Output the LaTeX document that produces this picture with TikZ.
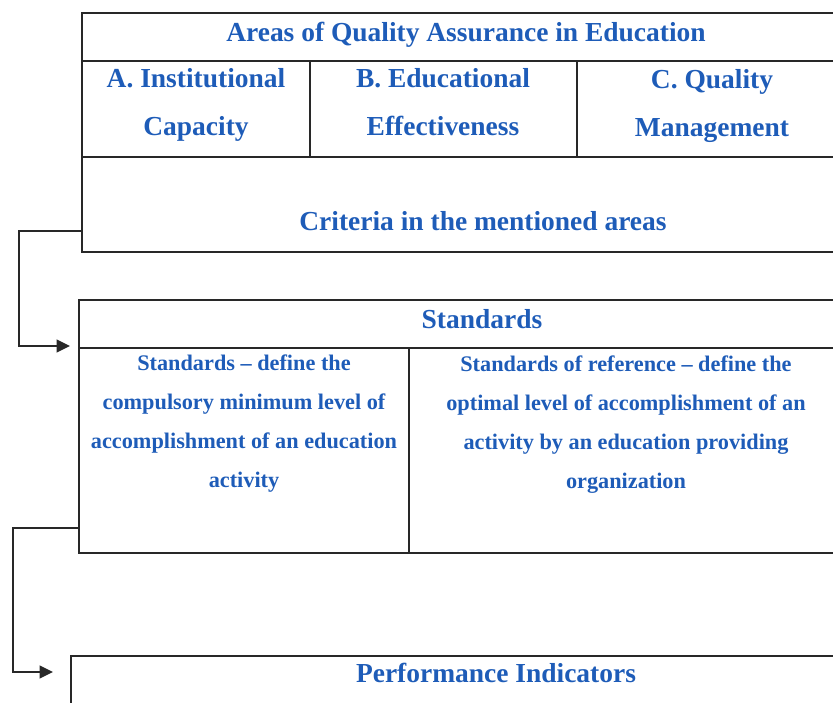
\documentclass[tikz,border=0pt]{standalone}
\usepackage{fontspec}
\setmainfont{Liberation Serif}
\usetikzlibrary{arrows.meta,calc}
\definecolor{txtblue}{RGB}{30,92,184}
\definecolor{rulegray}{RGB}{40,40,40}
\begin{document}
\begin{tikzpicture}[x=0.75pt,y=-0.75pt,
  cell/.style args={#1/#2}{draw=rulegray, line width=1.2pt,
    minimum width={#1*0.75pt}, minimum height={#2*0.75pt},
    anchor=north west, inner sep=0pt, outer sep=0pt},
  head/.style={text=txtblue, inner sep=0pt, anchor=base, align=center,
    font=\bfseries\fontsize{20.6}{36}\selectfont},
  desc/.style={text=txtblue, inner sep=0pt, anchor=base, align=center,
    font=\bfseries\fontsize{16.7}{29.2}\selectfont},
  conn/.style={draw=rulegray, line width=1.2pt,
    -{Triangle[length=10pt,width=9.5pt]}}]
\useasboundingbox (0,0) rectangle (833,703);
\clip (0,0) rectangle (833,703);

% areas table
\node[cell=768/48] (title) at (82,13) {};
\node[cell=228/96] (capA) at (82,61) {};
\node[cell=267/96] (capB) at (310,61) {};
\node[cell=273/96] (capC) at (577,61) {};
\node[cell=768/95] (crit) at (82,157) {};

% anchor=base of a two-line label sits on its last line
\node[head] (tTitle) at (466,41) {Areas of Quality Assurance in Education};
\node[head] (tA) at (196,135) {A. Institutional\\Capacity};
\node[head] (tB) at (443,135) {B. Educational\\Effectiveness};
\node[head] (tC) at (712,136) {C. Quality\\Management};
\node[head] (tCrit) at (483,230) {Criteria in the mentioned areas};

% standards table
\node[cell=771/48] (stdhead) at (79,300) {};
\node[cell=330/205] (stdmin) at (79,348) {};
\node[cell=441/205] (stdref) at (409,348) {};

\node[head] (tStd) at (482,328) {Standards};
\node[desc] (tMin) at (244,487) {Standards -- define the\\compulsory minimum level of\\accomplishment of an education\\activity};
\node[desc] (tRef) at (626,488) {Standards of reference -- define the\\optimal level of accomplishment of an\\activity by an education providing\\organization};

% performance indicators
\node[cell=779/80] (perf) at (71,656) {};
\node[head] (tPerf) at (496,682) {Performance Indicators};

% connectors
\draw[conn, shorten >=6.75pt] ($(crit.south west)+(0,-21)$) -- ++(-63,0)
  |- ($(stdhead.south west)+(0,-2)$);
\draw[conn, shorten >=13.5pt] ($(stdmin.south west)+(0,-25)$) -- ++(-66,0)
  |- ($(perf.north west)+(0,16)$);
\end{tikzpicture}
\end{document}
